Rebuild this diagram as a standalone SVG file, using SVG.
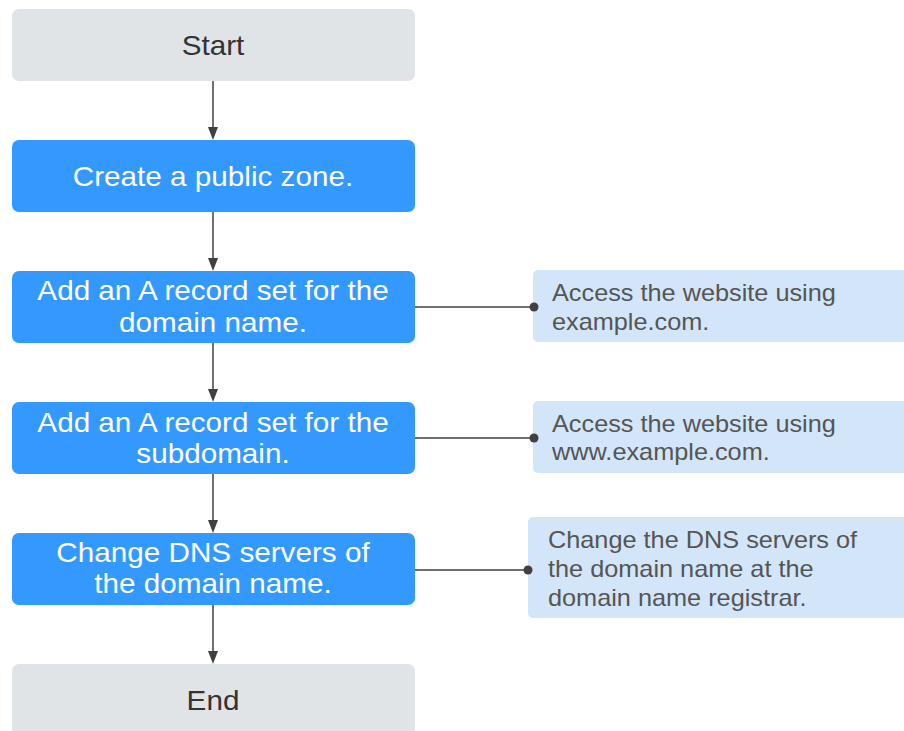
<svg xmlns="http://www.w3.org/2000/svg" width="904" height="731" viewBox="0 0 904 731">
<style>
.term{fill:#e1e4e7}
.step{fill:#3399ff}
.note{fill:#d3e6f9}
.tt{font-family:"Liberation Sans",Arial,sans-serif;font-size:28px;fill:#333;text-anchor:middle}
.ts{font-family:"Liberation Sans",Arial,sans-serif;font-size:28px;fill:#fff;text-anchor:middle}
.tn{font-family:"Liberation Sans",Arial,sans-serif;font-size:23px;fill:#555}
.ln{stroke:#404040;stroke-width:1.5;fill:none}
.ah{fill:#404040}
</style>
<rect width="904" height="731" fill="#fff"/>
<g id="start"><rect class="term" x="12" y="9" width="403" height="72" rx="7"/><g transform="translate(213 0) scale(1.06 1)"><text class="tt" x="0" y="55">Start</text></g></g>
<g id="create"><rect class="step" x="12" y="140" width="403" height="72" rx="7"/><g transform="translate(213 0) scale(1.06 1)"><text class="ts" x="0" y="186">Create a public zone.</text></g></g>
<g id="addA"><rect class="step" x="12" y="271" width="403" height="72" rx="7"/><g transform="translate(213 0) scale(1.06 1)"><text class="ts" x="0" y="300">Add an A record set for the</text><text class="ts" x="0" y="332">domain name.</text></g></g>
<g id="addSub"><rect class="step" x="12" y="402" width="403" height="72" rx="7"/><g transform="translate(213 0) scale(1.06 1)"><text class="ts" x="0" y="432">Add an A record set for the</text><text class="ts" x="0" y="463">subdomain.</text></g></g>
<g id="changeDns"><rect class="step" x="12" y="533" width="403" height="72" rx="7"/><g transform="translate(213 0) scale(1.06 1)"><text class="ts" x="0" y="562">Change DNS servers of</text><text class="ts" x="0" y="593">the domain name.</text></g></g>
<g id="end"><rect class="term" x="12" y="664" width="403" height="80" rx="7"/><g transform="translate(213 0) scale(1.06 1)"><text class="tt" x="0" y="710">End</text></g></g>
<g id="note1"><rect class="note" x="533" y="270" width="380" height="72" rx="5"/><g transform="translate(552 0) scale(1.1 1)"><text class="tn" x="0" y="301">Access the website using</text><text class="tn" x="0" y="330">example.com.</text></g></g>
<g id="note2"><rect class="note" x="533" y="401" width="380" height="72" rx="5"/><g transform="translate(552 0) scale(1.1 1)"><text class="tn" x="0" y="432">Access the website using</text><text class="tn" x="0" y="460">www.example.com.</text></g></g>
<g id="note3"><rect class="note" x="528" y="517" width="385" height="101" rx="5"/><g transform="translate(548 0) scale(1.1 1)"><text class="tn" x="0" y="548">Change the DNS servers of</text><text class="tn" x="0" y="577">the domain name at the</text><text class="tn" x="0" y="606">domain name registrar.</text></g></g>
<g id="connectors">
<path class="ln" d="M213,81 V128"/><path class="ah" d="M208,127 L218,127 L213,140 Z"/>
<path class="ln" d="M213,212 V259"/><path class="ah" d="M208,258 L218,258 L213,271 Z"/>
<path class="ln" d="M213,343 V389"/><path class="ah" d="M208,389 L218,389 L213,402 Z"/>
<path class="ln" d="M213,474 V521"/><path class="ah" d="M208,520 L218,520 L213,533 Z"/>
<path class="ln" d="M213,605 V652"/><path class="ah" d="M208,651 L218,651 L213,664 Z"/>
<path class="ln" d="M415,307 H533"/><circle class="ah" cx="534" cy="307" r="4.5"/>
<path class="ln" d="M415,438 H533"/><circle class="ah" cx="534" cy="438" r="4.5"/>
<path class="ln" d="M415,570 H528"/><circle class="ah" cx="528" cy="570" r="4.5"/>
</g>
</svg>
